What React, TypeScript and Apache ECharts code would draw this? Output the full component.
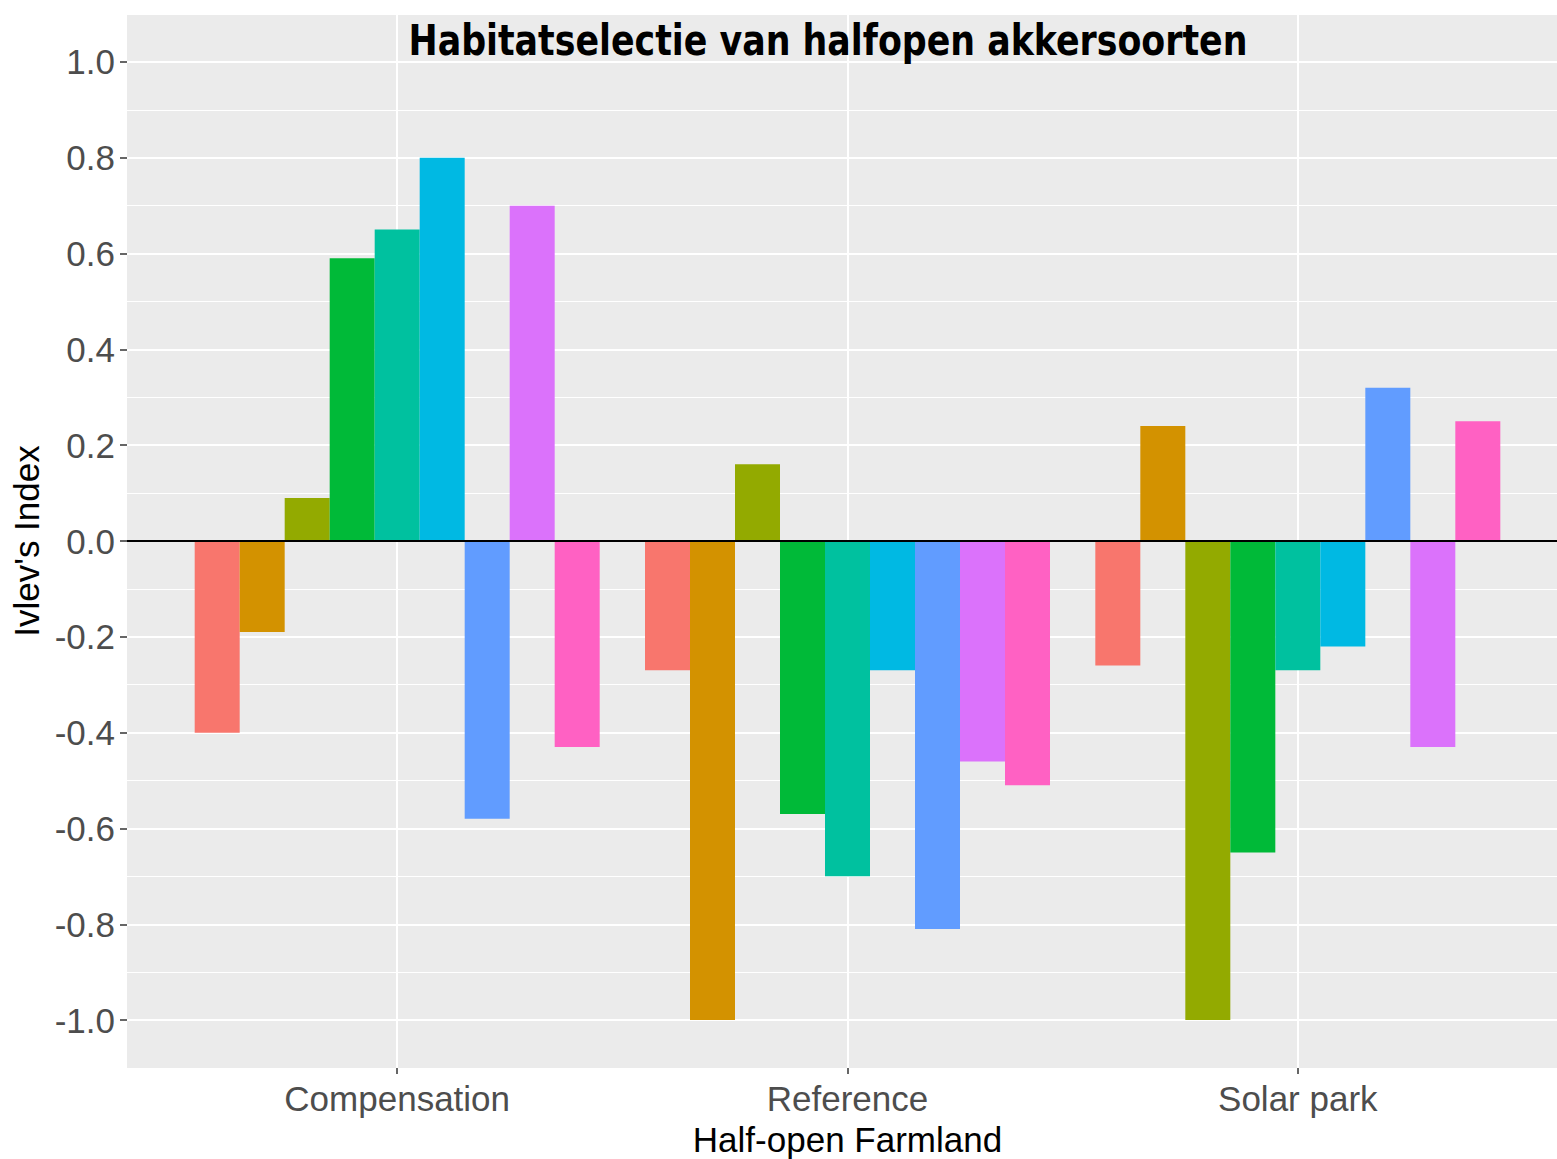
import React, { useEffect, useRef } from "react";
import * as echarts from "echarts";

const groups = ["Compensation", "Reference", "Solar park"];
const seriesNames = ["Soort 1", "Soort 2", "Soort 3", "Soort 4", "Soort 5", "Soort 6", "Soort 7", "Soort 8", "Soort 9"];
const colors = ["#F8766D", "#D39200", "#93AA00", "#00BA38", "#00C19F", "#00B9E3", "#619CFF", "#DB72FB", "#FF61C3"];
const s1 = [-0.40, -0.27, -0.26];
const s2 = [-0.19, -1.00, 0.24];
const s3 = [0.09, 0.16, -1.00];
const s4 = [0.59, -0.57, -0.65];
const s5 = [0.65, -0.70, -0.27];
const s6 = [0.80, -0.27, -0.22];
const s7 = [-0.58, -0.81, 0.32];
const s8 = [0.70, -0.46, -0.43];
const s9 = [-0.43, -0.51, 0.25];
const values = [s1, s2, s3, s4, s5, s6, s7, s8, s9];
const majorTicks = [-1.0, -0.8, -0.6, -0.4, -0.2, 0.0, 0.2, 0.4, 0.6, 0.8, 1.0];
const yMin = -1.1;
const yMax = 1.1;

// discrete axis expanded by 0.6 on each side: slots every 0.2 from 0.4 to 3.6
const SLOT_COUNT = 17;
const groupSlots = [3, 8, 13];

const FONT = "'Liberation Sans', Arial, sans-serif";

export default function App() {
  const ref = useRef<HTMLDivElement>(null);
  useEffect(() => {
    if (!ref.current) return;
    const chart = echarts.init(ref.current, null, { renderer: "svg" });
    const slotNames = Array.from({ length: SLOT_COUNT }, (_, i) => `slot${i}`);
    const slotLabel = (i: number) => {
      const g = groupSlots.indexOf(i);
      return g >= 0 ? groups[g] : "";
    };
    const isGroup = (i: number) => groupSlots.indexOf(i) >= 0;
    const series: any[] = values.map((vals, si) => {
      const data: any[] = Array.from({ length: SLOT_COUNT }, () => "-");
      groupSlots.forEach((slot, gi) => {
        data[slot] = vals[gi];
      });
      const s: any = {
        name: seriesNames[si],
        type: "bar",
        data,
        barWidth: 45,
        barGap: "0%",
        itemStyle: { color: colors[si] },
        emphasis: { disabled: true },
        silent: true,
      };
      if (si === 0) {
        s.markLine = {
          silent: true,
          symbol: ["none", "none"],
          label: { show: false },
          lineStyle: { color: "#000000", width: 2, type: "solid" },
          data: [{ yAxis: 0 }],
          z: 10,
        };
      }
      return s;
    });
    chart.setOption({
      animation: false,
      grid: {
        left: 127,
        right: -11,
        top: 14,
        bottom: 91,
        show: true,
        backgroundColor: "#EBEBEB",
        borderWidth: 0,
        containLabel: false,
        outerBoundsMode: "none",
      },
      xAxis: {
        type: "category",
        data: slotNames,
        boundaryGap: false,
        axisLine: { show: false, onZero: false },
        axisTick: {
          show: true,
          length: 6,
          interval: (i: number) => isGroup(i),
          lineStyle: { color: "#333333", width: 1.5 },
        },
        axisLabel: {
          interval: (i: number) => isGroup(i),
          formatter: (_v: string, i: number) => slotLabel(i),
          color: "#4D4D4D",
          fontSize: 35,
          fontFamily: FONT,
          margin: 13,
        },
        splitLine: {
          show: true,
          interval: (i: number) => isGroup(i),
          lineStyle: { color: "#FFFFFF", width: 2 },
        },
        name: "Half-open Farmland",
        nameLocation: "middle",
        nameGap: 54,
        nameTextStyle: { color: "#000000", fontSize: 35, fontFamily: FONT },
      },
      yAxis: [
        {
          type: "value",
          min: yMin,
          max: yMax,
          interval: 0.2,
          axisLine: { show: false },
          axisTick: {
            show: true,
            length: 7,
            customValues: majorTicks,
            lineStyle: { color: "#333333", width: 1.5 },
          },
          axisLabel: {
            customValues: majorTicks,
            formatter: (v: number) => v.toFixed(1),
            color: "#4D4D4D",
            fontSize: 35,
            fontFamily: FONT,
            margin: 12,
          },
          splitLine: { show: true, lineStyle: { color: "#FFFFFF", width: 2 } },
          name: "Ivlev's Index",
          nameLocation: "middle",
          nameGap: 83,
          nameTextStyle: { color: "#000000", fontSize: 35, fontFamily: FONT },
        },
        {
          type: "value",
          min: yMin,
          max: yMax,
          interval: 0.2,
          position: "left",
          axisLine: { show: false },
          axisTick: { show: false },
          axisLabel: { show: false },
          splitLine: { show: true, lineStyle: { color: "#FFFFFF", width: 1.2 } },
        },
      ],
      graphic: [
        {
          type: "text",
          x: 828,
          y: 40,
          z: 100,
          scaleX: 0.9,
          style: {
            text: "Habitatselectie van halfopen akkersoorten",
            fill: "#000000",
            fontSize: 43,
            fontWeight: "bold",
            fontFamily: "'Liberation Sans Narrow', 'DejaVu Sans Condensed', Lato, sans-serif",
            align: "center",
            verticalAlign: "middle",
          },
        },
      ],
      series,
    });
    return () => chart.dispose();
  }, []);
  return (
    <div
      ref={ref}
      style={{ position: "absolute", left: 0, top: 0, width: 1557, height: 1159 }}
    />
  );
}
